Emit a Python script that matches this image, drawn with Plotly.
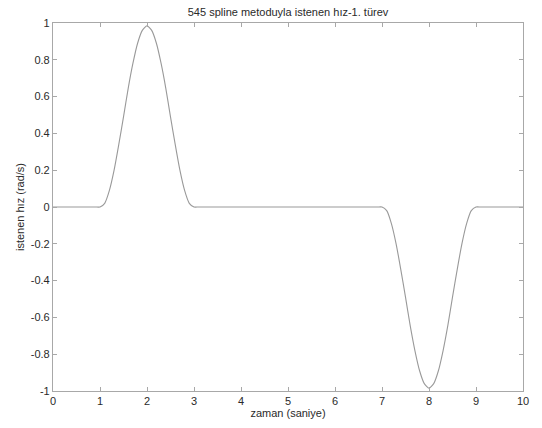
import plotly.graph_objects as go

# time (s) and desired velocity
t_vals = [0.0, 0.5, 0.9, 1.0, 1.1, 1.2, 1.3, 1.4, 1.5, 1.6, 1.7, 1.8, 1.9, 2.0,
          2.1, 2.2, 2.3, 2.4, 2.5, 2.6, 2.7, 2.8, 2.9, 3.0, 3.1, 4.0, 5.0, 6.0, 6.9,
          7.0, 7.1, 7.2, 7.3, 7.4, 7.5, 7.6, 7.7, 7.8, 7.9, 8.0,
          8.1, 8.2, 8.3, 8.4, 8.5, 8.6, 8.7, 8.8, 8.9, 9.0, 9.1, 9.5, 10.0]
v_vals = [0.0, 0.0, 0.0, 0.0, 0.02, 0.09, 0.2, 0.34, 0.49, 0.645, 0.78, 0.89, 0.96, 0.985,
          0.96, 0.89, 0.78, 0.645, 0.49, 0.34, 0.2, 0.09, 0.02, 0.0, 0.0, 0.0, 0.0, 0.0, 0.0,
          0.0, -0.02, -0.09, -0.2, -0.34, -0.49, -0.645, -0.78, -0.89, -0.96, -0.985,
          -0.96, -0.89, -0.78, -0.645, -0.49, -0.34, -0.2, -0.09, -0.02, 0.0, 0.0, 0.0, 0.0]

x_ticks = [0, 1, 2, 3, 4, 5, 6, 7, 8, 9, 10]
y_ticks = [-1, -0.8, -0.6, -0.4, -0.2, 0, 0.2, 0.4, 0.6, 0.8, 1]
y_tick_text = ["-1", "-0.8", "-0.6", "-0.4", "-0.2", "0", "0.2", "0.4", "0.6", "0.8", "1"]

title_text = "545 spline metoduyla istenen hız-1. türev"
x_label = "zaman (saniye)"
y_label = "istenen hız (rad/s)"

FONT = "Liberation Sans, Arial, sans-serif"
AXIS_COLOR = "#a8a8a8"
TEXT_COLOR = "#2a2a2a"

fig = go.Figure()
fig.add_trace(go.Scatter(
    x=t_vals, y=v_vals, mode="lines",
    line=dict(color="#999999", width=1.1, shape="spline", smoothing=0.6),
    showlegend=False, hoverinfo="skip",
))

axis_common = dict(
    showline=True, linecolor=AXIS_COLOR, linewidth=1.2, mirror="ticks",
    ticks="inside", ticklen=4, tickcolor=AXIS_COLOR, tickwidth=1,
    showgrid=False, zeroline=False,
    tickfont=dict(family=FONT, size=11, color=TEXT_COLOR),
)

fig.update_layout(
    width=542, height=428,
    margin=dict(l=53, r=19, t=23, b=37),
    paper_bgcolor="white", plot_bgcolor="white",
    title=dict(text=title_text, x=0.5, xref="paper", xanchor="center",
               y=1 - 12 / 428, yanchor="middle", yref="container",
               font=dict(family=FONT, size=11, color=TEXT_COLOR)),
    xaxis=dict(range=[0, 10], tickvals=x_ticks, ticktext=[str(v) for v in x_ticks],
               title=dict(text=x_label, standoff=2,
                          font=dict(family=FONT, size=11, color=TEXT_COLOR)),
               **axis_common),
    yaxis=dict(range=[-1, 1], tickvals=y_ticks, ticktext=y_tick_text,
               title=dict(text=y_label, standoff=3,
                          font=dict(family=FONT, size=11, color=TEXT_COLOR)),
               **axis_common),
)

fig.write_html(
    "out.html",
    config={"displayModeBar": False},
    post_script="document.body.style.margin='0';document.body.style.overflow='hidden';",
)
